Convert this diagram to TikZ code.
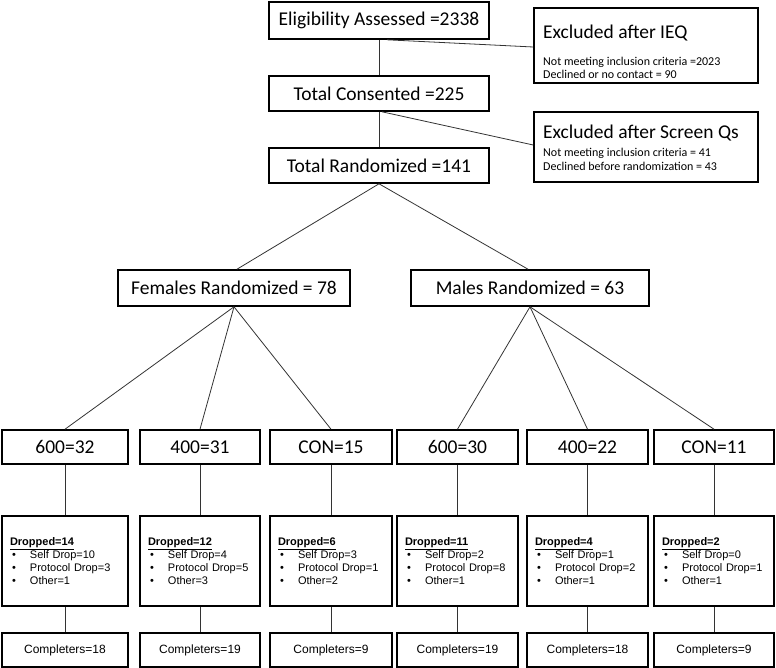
\documentclass[tikz,border=0pt]{standalone}
\usepackage{fontspec}
\setmainfont{Carlito}
\newfontfamily\arialf{Liberation Sans}
\newcommand\bul{\makebox[20pt][l]{\hspace{2pt}\textbullet}}
\begin{document}
\begin{tikzpicture}[x=1pt,y=-1pt,
  box/.style={draw, line width=1.6pt, inner sep=0pt, font=\fontsize{19.5}{22}\selectfont},
  lbl/.style={inner sep=0pt, anchor=base west},
  conn/.style={draw=black!80, line width=0.8pt},
  dropbox/.style={draw, line width=1.6pt, minimum height=90pt, align=left, inner xsep=8pt, inner ysep=0pt, font=\arialf\fontsize{11}{13}\selectfont},
  compbox/.style={draw, line width=1.6pt, minimum height=34pt, inner sep=0pt, font=\arialf\fontsize{12}{14}\selectfont}]
\useasboundingbox (0,0) rectangle (776,668);

% top column
\node[box, minimum width=220pt, minimum height=37pt] (elig) at (379,20.5) {Eligibility Assessed =2338};
\node[box, minimum width=220pt, minimum height=35pt] (cons) at (379,93.5) {Total Consented =225};
\node[box, minimum width=220pt, minimum height=35pt] (rand) at (379,165.5) {Total Randomized =141};

% exclusion boxes
\node[box, minimum width=224pt, minimum height=75pt] (exa) at (646,45.5) {};
\node[lbl, font=\fontsize{19.5}{22}\selectfont] (exaT) at (543,39) {Excluded after IEQ};
\node[lbl, font=\fontsize{12}{13}\selectfont] (exaS1) at (543,66) {Not meeting inclusion criteria =2023};
\node[lbl, font=\fontsize{12}{13}\selectfont] (exaS2) at (543,79) {Declined or no contact = 90};

\node[box, minimum width=224pt, minimum height=70pt] (exb) at (646,147) {};
\node[lbl, font=\fontsize{19.5}{22}\selectfont] (exbT) at (543,139) {Excluded after Screen Qs};
\node[lbl, font=\fontsize{12}{13}\selectfont] (exbS1) at (543,157) {Not meeting inclusion criteria = 41};
\node[lbl, font=\fontsize{12}{13}\selectfont] (exbS2) at (543,171) {Declined before randomization = 43};

% sex
\node[box, minimum width=232pt, minimum height=36pt] (fem) at (234,288) {Females Randomized = 78};
\node[box, minimum width=238pt, minimum height=36pt] (mal) at (530,288) {Males Randomized = 63};

% groups
\node[box, minimum width=126pt, minimum height=34pt] (g1) at (65,447) {600=32};
\node[box, minimum width=120pt, minimum height=34pt] (g2) at (200,447) {400=31};
\node[box, minimum width=122pt, minimum height=34pt] (g3) at (331,447) {CON=15};
\node[box, minimum width=121pt, minimum height=34pt] (g4) at (457.5,447) {600=30};
\node[box, minimum width=121pt, minimum height=34pt] (g5) at (587.5,447) {400=22};
\node[box, minimum width=120pt, minimum height=34pt] (g6) at (714,447) {CON=11};

% dropped
\node[dropbox, text width=110pt] (d1) at (65,561) {\underline{\textbf{Dropped=14}}\\\bul Self Drop=10\\\bul Protocol Drop=3\\\bul Other=1};
\node[dropbox, text width=104pt] (d2) at (200,561) {\underline{\textbf{Dropped=12}}\\\bul Self Drop=4\\\bul Protocol Drop=5\\\bul Other=3};
\node[dropbox, text width=106pt] (d3) at (331,561) {\underline{\textbf{Dropped=6}}\\\bul Self Drop=3\\\bul Protocol Drop=1\\\bul Other=2};
\node[dropbox, text width=105pt] (d4) at (457.5,561) {\underline{\textbf{Dropped=11}}\\\bul Self Drop=2\\\bul Protocol Drop=8\\\bul Other=1};
\node[dropbox, text width=105pt] (d5) at (587.5,561) {\underline{\textbf{Dropped=4}}\\\bul Self Drop=1\\\bul Protocol Drop=2\\\bul Other=1};
\node[dropbox, text width=104pt] (d6) at (714,561) {\underline{\textbf{Dropped=2}}\\\bul Self Drop=0\\\bul Protocol Drop=1\\\bul Other=1};

% completers
\node[compbox, minimum width=126pt] (c1) at (65,650) {Completers=18};
\node[compbox, minimum width=120pt] (c2) at (200,650) {Completers=19};
\node[compbox, minimum width=122pt] (c3) at (331,650) {Completers=9};
\node[compbox, minimum width=121pt] (c4) at (457.5,650) {Completers=19};
\node[compbox, minimum width=121pt] (c5) at (587.5,650) {Completers=18};
\node[compbox, minimum width=120pt] (c6) at (714,650) {Completers=9};

% connectors
\draw[conn] (elig.south) -- (cons.north);
\draw[conn] (cons.south) -- (rand.north);
\draw[conn] ([xshift=8pt]elig.south) -- ([yshift=-1.5pt]exa.west);
\draw[conn] ([xshift=3pt]cons.south) -- ([yshift=2pt]exb.west);
\draw[conn] (rand.south) -- ([xshift=3pt]fem.north);
\draw[conn] (rand.south) -- ([xshift=-2pt]mal.north);
\foreach \g in {g1,g2,g3} \draw[conn] (fem.south) -- (\g.north);
\foreach \g in {g4,g5,g6} \draw[conn] (mal.south) -- (\g.north);
\foreach \i in {1,...,6} {
  \draw[conn] (g\i.south) -- (d\i.north);
  \draw[conn] (d\i.south) -- (c\i.north);
}
\end{tikzpicture}
\end{document}
